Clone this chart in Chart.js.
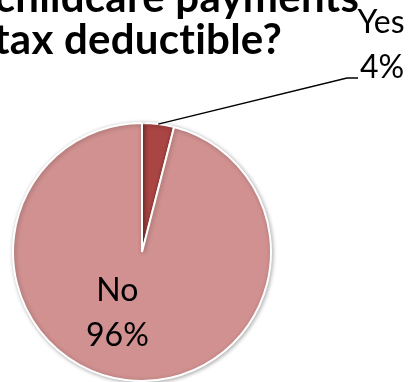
<!DOCTYPE html>
<html>
<head>
<meta charset="utf-8">
<script src="https://cdn.jsdelivr.net/npm/chart.js@4.4.1/dist/chart.umd.min.js"></script>
<style>
  html, body { margin: 0; padding: 0; background: #fff; }
  #wrap { width: 412px; height: 382px; overflow: hidden; }
</style>
</head>
<body>
<div id="wrap"><canvas id="pieChart" width="412" height="382"></canvas></div>
<script>
// survey answers
const answers = ['Yes', 'No'];
const shares = [4, 96];
const sliceColors = ['#A94543', '#D09190'];
const titleLines = ['Are childcare payments', 'tax deductible?'];

// title drawn by hand so it can run off the left edge like the slide it came from
const titlePlugin = {
    id: 'slideTitle',
    afterDraw(chart) {
        const ctx = chart.ctx;
        ctx.save();
        ctx.font = 'bold 42px Lato';
        ctx.letterSpacing = '0.25px';
        ctx.fillStyle = '#000';
        ctx.textAlign = 'center';
        ctx.textBaseline = 'alphabetic';
        ctx.fillText(titleLines[0], 138, 12);
        ctx.fillText(titleLines[1], 138, 54);
        ctx.restore();
    }
};

// soft shadow under the pie
const shadowPlugin = {
    id: 'pieShadow',
    beforeDatasetsDraw(chart) {
        const ctx = chart.ctx;
        ctx.save();
        ctx.shadowColor = 'rgba(0,0,0,0.3)';
        ctx.shadowBlur = 4;
        ctx.shadowOffsetX = 1;
        ctx.shadowOffsetY = 1;
    },
    afterDatasetsDraw(chart) {
        chart.ctx.restore();
    }
};

// category + percent labels, Yes gets a leader line
const labelPlugin = {
    id: 'sliceLabels',
    afterDatasetsDraw(chart) {
        const ctx = chart.ctx;
        const meta = chart.getDatasetMeta(0);
        ctx.save();
        ctx.font = '32px Lato';
        ctx.fillStyle = '#000';
        ctx.textAlign = 'center';
        ctx.textBaseline = 'alphabetic';

        meta.data.forEach((arc, i) => {
            const p = arc.getProps(['x', 'y', 'startAngle', 'endAngle', 'outerRadius'], true);
            const mid = (p.startAngle + p.endAngle) / 2;
            const text = [answers[i], shares[i] + '%'];

            if (i === 0) {
                const sx = p.x + Math.cos(mid) * p.outerRadius;
                const sy = p.y + Math.sin(mid) * p.outerRadius;
                const lx = 347, ly = 78;
                ctx.beginPath();
                ctx.strokeStyle = '#000';
                ctx.lineWidth = 1.3;
                ctx.moveTo(sx, sy);
                ctx.lineTo(lx, ly);
                ctx.lineTo(lx + 11, ly);
                ctx.stroke();
                ctx.fillText(text[0], 381, 33);
                ctx.fillText(text[1], 382, 78);
            } else {
                const ang = mid + 0.25;
                const r = p.outerRadius * 0.52;
                const cx = p.x + Math.cos(ang) * r;
                const cy = p.y + Math.sin(ang) * r;
                ctx.fillText(text[0], cx, cy - 13);
                ctx.fillText(text[1], cx, cy + 32);
            }
        });
        ctx.restore();
    }
};

const ctx = document.getElementById('pieChart').getContext('2d');
new Chart(ctx, {
    type: 'pie',
    data: {
        labels: answers,
        datasets: [{
            data: shares,
            backgroundColor: sliceColors,
            borderColor: '#fff',
            borderWidth: 2
        }]
    },
    options: {
        responsive: false,
        animation: false,
        devicePixelRatio: 1,
        layout: {
            padding: { left: 12, right: 140, top: 122, bottom: 0 }
        },
        plugins: {
            legend: { display: false },
            tooltip: { enabled: false },
            title: { display: false }
        }
    },
    plugins: [shadowPlugin, labelPlugin, titlePlugin]
});
</script>
</body>
</html>
